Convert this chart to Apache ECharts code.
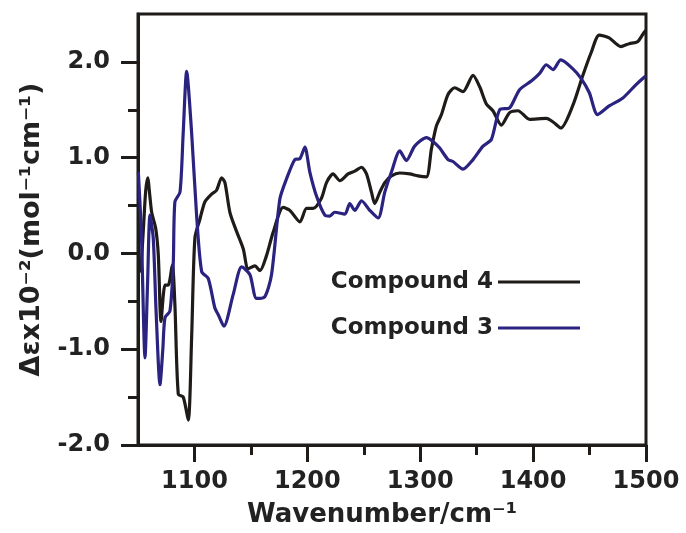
<!DOCTYPE html>
<html>
<head>
<meta charset="utf-8">
<script src="https://cdn.jsdelivr.net/npm/echarts@6/dist/echarts.min.js"></script>
<style>html,body{margin:0;padding:0;background:#fff}#c{width:686px;height:533px}</style>
</head>
<body>
<div id="c"></div>
<script>
// Compound 4 (black)
var c4X = [1052.5,1055,1056.8,1058.6,1060.5,1062.1,1065.7,1068,1070.4,1073.9,1076.8,1080.4,1082.7,1085.7,1090.1,1094.5,1097.5,1100.4,1104.9,1109.3,1115.2,1119.6,1124.1,1127,1131.4,1137.3,1143.2,1147.6,1153.5,1158,1163.9,1169.7,1178.6,1184.5,1193.4,1199.3,1205.1,1212.6,1217,1222.8,1228.8,1236.1,1242,1248,1252.4,1256.8,1259.7,1264.2,1268.6,1274.5,1281.9,1290.7,1298,1305.5,1309.9,1314.3,1318.8,1324.6,1330.5,1337.9,1346.8,1352.7,1358.6,1364.4,1371.9,1379.2,1386.6,1396.9,1411.7,1418,1424.6,1435,1443.8,1451.2,1458.6,1467.4,1477.7,1485.1,1492.5,1498.4,1500];
var c4Y = [-0.2,0.3,0.65,0.79,0.6,0.43,0.26,-0.02,-0.71,-0.33,-0.33,-0.12,-0.54,-1.47,-1.5,-1.74,-0.88,0.16,0.36,0.54,0.62,0.66,0.79,0.74,0.43,0.23,0.05,-0.16,-0.13,-0.18,-0.02,0.22,0.48,0.45,0.33,0.47,0.47,0.58,0.74,0.83,0.76,0.83,0.86,0.90,0.83,0.64,0.52,0.64,0.74,0.81,0.84,0.83,0.81,0.80,1.09,1.33,1.45,1.66,1.73,1.69,1.86,1.74,1.56,1.49,1.34,1.47,1.49,1.40,1.41,1.37,1.31,1.54,1.85,2.09,2.28,2.25,2.16,2.19,2.21,2.31,2.33];
// Compound 3 (blue)
var c3X = [1050.3,1053,1056.2,1058.5,1060.6,1063.5,1066,1069.5,1072,1073.9,1078.3,1081.2,1082.7,1087.2,1090,1093.1,1097.5,1101.9,1106.4,1112.2,1118.1,1121.1,1126.1,1134.3,1141.8,1149.1,1155,1162.4,1168.3,1175.7,1181.6,1188.9,1193.4,1197.8,1202.2,1208.1,1215.5,1219.9,1224.3,1233.2,1237.6,1242,1248,1255.3,1262.7,1268.6,1274.5,1281.9,1287.8,1295.1,1305.5,1311.3,1317.3,1324.6,1329,1337.9,1346.8,1355.6,1363,1370.4,1379.2,1388,1398.4,1405.8,1411.7,1417.6,1424.5,1435,1442.3,1449.7,1457.1,1467.4,1479.2,1491,1498.4,1500];
var c3Y = [0.85,0.2,-1.09,-0.3,0.40,0.16,-0.6,-1.37,-1.0,-0.67,-0.60,-0.12,0.54,0.64,1.25,1.90,1.26,0.40,-0.19,-0.26,-0.57,-0.64,-0.76,-0.43,-0.14,-0.22,-0.47,-0.45,-0.22,0.57,0.78,0.98,0.99,1.11,0.85,0.60,0.40,0.39,0.43,0.41,0.52,0.45,0.55,0.45,0.37,0.64,0.85,1.07,0.97,1.12,1.21,1.17,1.10,0.98,0.96,0.88,0.98,1.12,1.19,1.50,1.52,1.71,1.80,1.88,1.97,1.92,2.02,1.93,1.83,1.68,1.45,1.54,1.62,1.76,1.84,1.85];
var xMajor = [1100,1200,1300,1400,1500];
var xMinor = [1150,1250,1350,1450];
var yMajor = [-2,-1,0,1,2];
var yMinor = [-1.5,-0.5,0.5,1.5];

function zip(a,b){var r=[];for(var i=0;i<a.length;i++)r.push([a[i],b[i]]);return r;}

var ink = '#1e1b18';
var blue = '#2a2380';
var font = 'DejaVu Sans';
var chart = echarts.init(document.getElementById('c'), null, {renderer:'canvas'});
chart.setOption({
  animation:false,
  backgroundColor:'#fff',
  grid:{left:138,right:40,top:14,bottom:85,show:true,borderColor:ink,borderWidth:3,backgroundColor:'transparent'},
  legend:{
    orient:'vertical', right:101, top:265, align:'right', icon:'rect',
    itemWidth:82, itemHeight:3, itemGap:22,
    textStyle:{fontFamily:font,fontWeight:'bold',fontSize:23,lineHeight:24,color:'#222'},
    data:['Compound 4','Compound 3']
  },
  xAxis:[{
    type:'value', min:1050, max:1500, position:'bottom',
    axisLine:{show:true,onZero:false,lineStyle:{color:ink,width:3}},
    axisTick:{show:true,length:17,lineStyle:{color:ink,width:3},customValues:xMajor},
    axisLabel:{show:true,margin:25,customValues:xMajor,fontFamily:font,fontWeight:'bold',fontSize:24,color:'#222',
      formatter:function(v){return String(v);}},
    splitLine:{show:false},
    name:'Wavenumber/cm\u207B\u00B9', nameLocation:'middle', nameGap:57,
    nameTextStyle:{fontFamily:font,fontWeight:'bold',fontSize:26,color:'#222',padding:[0,20,0,0]}
  },{
    type:'value', min:1050, max:1500, position:'bottom',
    axisLine:{show:false,onZero:false},
    axisTick:{show:true,length:10,lineStyle:{color:ink,width:3},customValues:xMinor},
    axisLabel:{show:false}, splitLine:{show:false}
  }],
  yAxis:[{
    type:'value', min:-2, max:2.5, position:'left',
    axisLine:{show:true,onZero:false,lineStyle:{color:ink,width:3}},
    axisTick:{show:true,length:17,lineStyle:{color:ink,width:3},customValues:yMajor},
    axisLabel:{show:true,margin:28,customValues:yMajor,fontFamily:font,fontWeight:'bold',fontSize:24,color:'#222',
      formatter:function(v){return v.toFixed(1);}},
    splitLine:{show:false},
    name:'\u0394\u03B5x10\u207B\u00B2(mol\u207B\u00B9cm\u207B\u00B9)', nameLocation:'middle', nameGap:93, nameRotate:90,
    nameTextStyle:{fontFamily:font,fontWeight:'bold',fontSize:27,color:'#222'}
  },{
    type:'value', min:-2, max:2.5, position:'left',
    axisLine:{show:false,onZero:false},
    axisTick:{show:true,length:10,lineStyle:{color:ink,width:3},customValues:yMinor},
    axisLabel:{show:false}, splitLine:{show:false}
  }],
  series:[{
    name:'Compound 4', type:'line', xAxisIndex:0, yAxisIndex:0,
    data:zip(c4X,c4Y), symbol:'none', smooth:0.25, clip:true,
    lineStyle:{color:ink,width:3.2}, itemStyle:{color:ink}
  },{
    name:'Compound 3', type:'line', xAxisIndex:0, yAxisIndex:0,
    data:zip(c3X,c3Y), symbol:'none', smooth:0.25, clip:true,
    lineStyle:{color:blue,width:3.2}, itemStyle:{color:blue}
  }]
});
</script>
</body>
</html>
